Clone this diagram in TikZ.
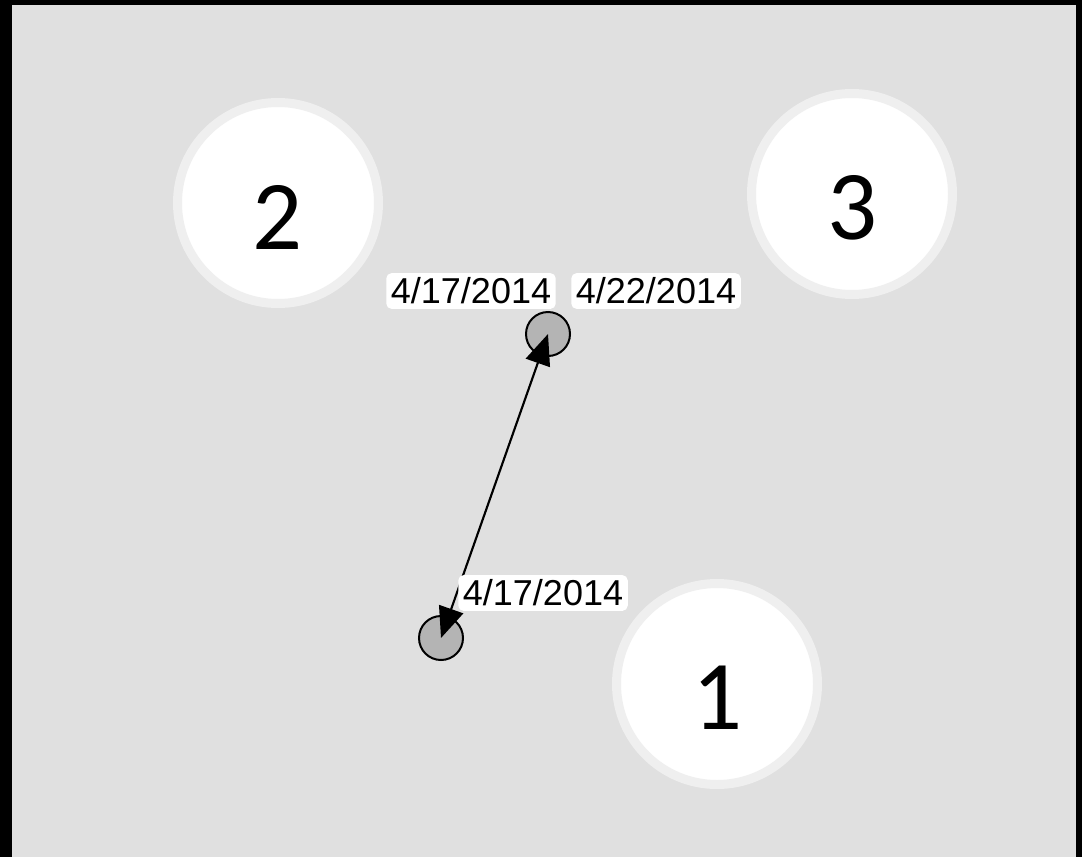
\documentclass[tikz,border=0pt]{standalone}
\usepackage{fontspec}
\setmainfont{Liberation Sans}
\newfontfamily\bigdigits{Carlito}
\usetikzlibrary{arrows.meta}
\definecolor{bggray}{HTML}{E0E0E0}
\definecolor{ringgray}{HTML}{EFEFEF}
\definecolor{dotgray}{HTML}{B4B4B4}
\tikzset{
  bignode/.style={circle, fill=white, draw=ringgray, line width=6.75pt, minimum size=150.75pt, inner sep=0pt},
  bigtext/.style={font=\bigdigits\fontsize{74}{80}\selectfont, inner sep=0pt},
  dotnode/.style={circle, fill=dotgray, draw=black, line width=1.5pt, minimum size=33pt, inner sep=0pt},
  datelabel/.style={fill=white, rounded corners=4pt, inner sep=3.5pt, font=\fontsize{27}{30}\selectfont, text=black},
  link/.style={line width=1.6pt, {Triangle[length=23pt,width=19pt]}-{Triangle[length=23pt,width=19pt]}}
}
\begin{document}
\begin{tikzpicture}[x=0.75pt,y=-0.75pt]
\useasboundingbox (0,0) rectangle (1082,857);
\fill[bggray] (0,0) rectangle (1082,857);
\fill[black] (0,0) rectangle (12,857);
\fill[black] (0,0) rectangle (1082,5);
\fill[black] (1076,0) rectangle (1082,857);
\node[bignode] (n2) at (278,203) {};
\node[bignode] (n3) at (852,194) {};
\node[bignode] (n1) at (717,684) {};
\node[bigtext] (t2) at (278,217) {2};
\node[bigtext] (t3) at (852,208) {3};
\node[bigtext] (t1) at (717,698) {1};
\node[dotnode] (top) at (548,334) {};
\node[dotnode] (bot) at (441,638) {};
\draw[link] (bot.center) -- (top.center);
\node[datelabel] (l1) at (471,291) {4/17/2014};
\node[datelabel] (l2) at (656,291) {4/22/2014};
\node[datelabel] (l3) at (543,593) {4/17/2014};
\end{tikzpicture}
\end{document}
